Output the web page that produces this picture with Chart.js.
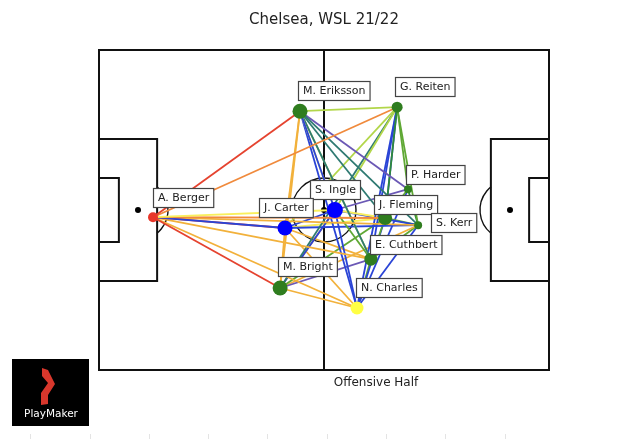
<!DOCTYPE html>
<html>
<head>
<meta charset="utf-8">
<script src="https://cdn.jsdelivr.net/npm/chart.js@4"></script>
<style>
  body { margin: 0; background: #fff; }
  #wrap { position: relative; width: 620px; height: 439px; }
</style>
</head>
<body>
<div id="wrap"><canvas id="chart" width="620" height="439"></canvas></div>
<script>
// players (pitch coords 120 x 80, y from top)
const players = ["A. Berger", "M. Eriksson", "G. Reiten", "P. Harder", "S. Ingle", "J. Carter",
                 "J. Fleming", "S. Kerr", "E. Cuthbert", "M. Bright", "N. Charles"];
const avgX = [14.4, 53.6, 79.5, 82.4, 62.9, 49.6, 76.3, 85.1, 72.5, 48.3, 68.8];
const avgY = [41.8, 15.3, 14.3, 34.8, 40.0, 44.5, 42.0, 43.8, 52.3, 59.5, 64.5];
const touches = [10, 15, 11, 8, 16, 15, 14, 8, 13, 15, 13];
const group = [0, 1, 1, 1, 2, 2, 1, 1, 1, 1, 3];

// pass links: from, to, tone
const passFrom = [0,0,0,0,0,0,0,0,0,0, 1,1,1,1,1,1,1,1,1,1,1, 2,2,2,2,2,2,2,2,2, 4,4,4,4,4,4,4, 5,5,5,5,5, 9,9,9,9,9, 6,6,6,6, 7,7,7, 8, 3];
const passTo   = [1,2,4,6,5,5,9,10,8,7, 2,5,9,4,4,6,7,8,3,10,8, 4,5,6,7,3,8,10,9,6, 3,6,7,8,10,9,5, 7,6,9,10,8, 8,6,10,7,4, 7,8,10,3, 8,10,3, 10, 10];
const passTone = [0,1,3,1,8,0,0,2,2,2, 4,2,2,8,3,7,7,7,9,8,4, 4,4,6,5,5,8,8,7,8, 9,3,8,5,8,8,8, 8,3,2,2,2, 9,5,2,2,1, 5,5,8,5, 5,8,6, 5, 8];

const toneColors = ["#e5432f", "#f08a3c", "#f2b13b", "#f9ef5c", "#b2d64a", "#5fa834",
                    "#2f8a3a", "#2f7a72", "#2a44d6", "#6b58b5"];
const groupColors = ["#e8372a", "#2f7d1f", "#0000ff", "#ffff44"];
// label box offset from node (px)
const labelDx = [0, -2, -2, -2, -25, -26, -11, 13, -1, -2, -1];
const labelDy = [-29, -30, -30, -24, -30, -30, -23, -12, -24, -31, -30];

const datasets = [{
  label: "players",
  order: 0,
  data: players.map((p, i) => ({ x: avgX[i], y: avgY[i] })),
  pointRadius: touches.map(t => t / 2),
  pointBackgroundColor: group.map(g => groupColors[g]),
  pointBorderWidth: 0,
  showLine: false
}];
passFrom.forEach((a, k) => {
  const b = passTo[k];
  datasets.push({
    order: 1,
    data: [{ x: avgX[a], y: avgY[a] }, { x: avgX[b], y: avgY[b] }],
    showLine: true,
    borderColor: toneColors[passTone[k]],
    borderWidth: 1.8,
    pointRadius: 0
  });
});

const pitchPlugin = {
  id: "pitch",
  beforeDatasetsDraw(chart) {
    const { ctx, scales: { x, y } } = chart;
    const px = v => x.getPixelForValue(v), py = v => y.getPixelForValue(v);
    ctx.save();
    ctx.strokeStyle = "#111";
    ctx.lineWidth = 2;
    const rect = (x0, y0, x1, y1) => {
      ctx.strokeRect(px(x0), py(y0), px(x1) - px(x0), py(y1) - py(y0));
    };
    rect(0, 0, 120, 80);
    ctx.beginPath(); ctx.moveTo(px(60), py(0)); ctx.lineTo(px(60), py(80)); ctx.stroke();
    rect(0, 22.25, 15.5, 57.75);
    rect(104.5, 22.25, 120, 57.75);
    rect(0, 32, 5.3, 48);
    rect(114.7, 32, 120, 48);
    ctx.lineWidth = 1.4;
    ctx.beginPath(); ctx.arc(px(60), py(40), 32, 0, Math.PI * 2); ctx.stroke();
    const a = Math.acos(19 / 30);
    ctx.beginPath(); ctx.arc(px(10.4), py(40), 30, -a, a); ctx.stroke();
    ctx.beginPath(); ctx.arc(px(109.6), py(40), 30, Math.PI - a, Math.PI + a); ctx.stroke();
    ctx.fillStyle = "#000";
    [[10.4, 40], [60, 40], [109.6, 40]].forEach(([sx, sy]) => {
      ctx.beginPath(); ctx.arc(px(sx), py(sy), 3, 0, Math.PI * 2); ctx.fill();
    });
    ctx.restore();
  },
  afterDraw(chart) {
    const { ctx, scales: { x, y } } = chart;
    ctx.save();
    ctx.font = "11px 'DejaVu Sans'";
    ctx.textBaseline = "middle";
    players.forEach((name, i) => {
      const bx = Math.round(x.getPixelForValue(avgX[i]) + labelDx[i]) + 0.5;
      const by = Math.round(y.getPixelForValue(avgY[i]) + labelDy[i]) + 0.5;
      const w = ctx.measureText(name).width + 9;
      ctx.fillStyle = "#fff";
      ctx.fillRect(bx, by, w, 19);
      ctx.strokeStyle = "#444";
      ctx.lineWidth = 1.2;
      ctx.strokeRect(bx, by, w, 19);
      ctx.fillStyle = "#222";
      ctx.fillText(name, bx + 4.5, by + 10);
    });
    ctx.textAlign = "center";
    ctx.font = "15px 'DejaVu Sans'";
    ctx.fillText("Chelsea, WSL 21/22", 324, 20);
    ctx.font = "12px 'DejaVu Sans'";
    ctx.fillText("Offensive Half", 376, 383);
    // logo
    ctx.fillStyle = "#000";
    ctx.fillRect(12, 359, 77, 67);
    ctx.fillStyle = "#d8372c";
    ctx.beginPath();
    ctx.moveTo(42, 368); ctx.lineTo(48, 370); ctx.lineTo(55, 384); ctx.lineTo(48, 395);
    ctx.lineTo(48, 404); ctx.lineTo(41, 405); ctx.lineTo(41, 393); ctx.lineTo(48, 383);
    ctx.lineTo(42, 376); ctx.closePath(); ctx.fill();
    ctx.fillStyle = "#fff";
    ctx.font = "10.5px 'DejaVu Sans'";
    ctx.fillText("PlayMaker", 51, 414);
    // faint ticks below
    ctx.strokeStyle = "#e4e4e4";
    ctx.lineWidth = 1;
    [30, 90, 149, 208, 267, 327, 386, 445, 505].forEach(tx => {
      ctx.beginPath(); ctx.moveTo(tx + 0.5, 434); ctx.lineTo(tx + 0.5, 439); ctx.stroke();
    });
    ctx.restore();
  }
};

new Chart(document.getElementById("chart"), {
  type: "scatter",
  data: { datasets },
  options: {
    responsive: false,
    animation: false,
    layout: { padding: { left: 99, right: 71, top: 50, bottom: 69 } },
    plugins: { legend: { display: false }, tooltip: { enabled: false } },
    scales: {
      x: { type: "linear", min: 0, max: 120, display: false },
      y: { type: "linear", min: 0, max: 80, reverse: true, display: false }
    }
  },
  plugins: [pitchPlugin]
});
</script>
</body>
</html>
